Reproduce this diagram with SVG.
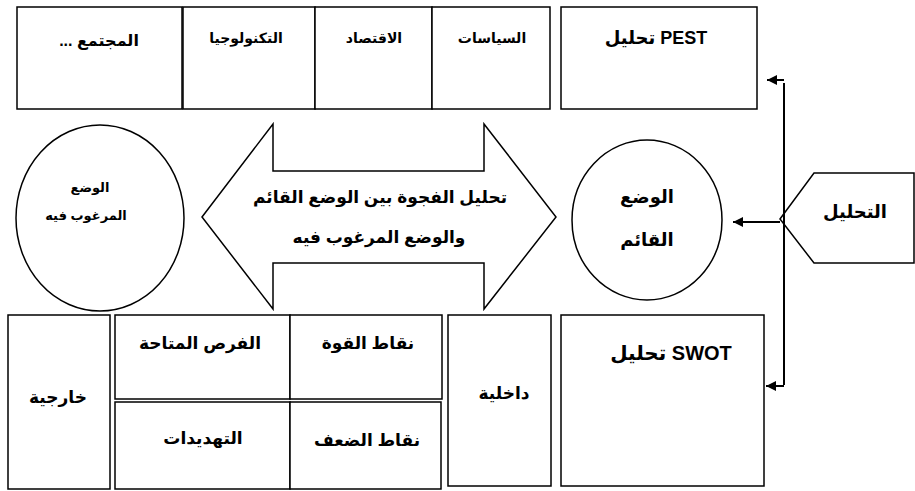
<svg xmlns="http://www.w3.org/2000/svg" width="915" height="491" viewBox="0 0 915 491">
<style>
.b{fill:#fff;stroke:#000;stroke-width:1.5}
.t{font-family:"Liberation Sans","DejaVu Sans",sans-serif;font-weight:bold;fill:#000;text-anchor:middle;direction:rtl}
.s{font-size:14px}
.r{font-size:13px}
.m{font-size:17px}
.l{font-size:18px}
.c{fill:none;stroke:#000;stroke-width:2}
</style>
<defs>
<marker id="ah" viewBox="0 0 10 10" refX="10" refY="5" markerWidth="5" markerHeight="5" orient="auto" markerUnits="strokeWidth">
<path d="M0,0 L10,5 L0,10 z" fill="#000"/>
</marker>
</defs>
<rect width="915" height="491" fill="#fff"/>
<g id="society"><rect class="b" x="17" y="7" width="165" height="102"/><text class="t" style="font-size:16px" x="99" y="46" direction="rtl">المجتمع ...</text></g>
<g id="technology"><rect class="b" x="183" y="7" width="132" height="102"/><text class="t s" x="246" y="43" direction="rtl">التكنولوجيا</text></g>
<g id="economy"><rect class="b" x="315" y="7" width="117" height="102"/><text class="t s" x="374" y="43" direction="rtl">الاقتصاد</text></g>
<g id="politics"><rect class="b" x="432" y="7" width="118" height="102"/><text class="t s" x="492" y="43" direction="rtl">السياسات</text></g>
<g id="pest"><rect class="b" x="561" y="7" width="196" height="102"/><text class="t l" x="656" y="44" direction="rtl">PEST تحليل</text></g>
<g id="desired"><ellipse class="b" cx="100" cy="218" rx="84" ry="93"/><text class="t r" x="90" y="192" direction="rtl">الوضع</text><text class="t r" x="86" y="220" direction="rtl">المرغوب فيه</text></g>
<g id="gap"><polygon class="b" points="202,217 273,124 273,171 484,171 484,124 556,217 484,309 484,263 273,263 273,309"/><text class="t m" x="380" y="203" direction="rtl">تحليل الفجوة بين الوضع القائم</text><text class="t m" x="379" y="243" direction="rtl">والوضع المرغوب فيه</text></g>
<g id="current"><ellipse class="b" cx="647" cy="220" rx="75" ry="80"/><text class="t l" x="647" y="203" direction="rtl">الوضع</text><text class="t l" x="647" y="246" direction="rtl">القائم</text></g>
<g id="analysis"><polygon class="b" points="780,219 814,173 914,173 914,263 814,263"/><text class="t l" x="855" y="218" direction="rtl">التحليل</text></g>
<g id="external"><rect class="b" x="8" y="315" width="102" height="174"/><text class="t m" x="58" y="403" direction="rtl">خارجية</text></g>
<g id="opportunities"><rect class="b" x="115" y="315" width="175" height="84"/><text class="t m" x="200" y="349" direction="rtl">الفرص المتاحة</text></g>
<g id="strengths"><rect class="b" x="290" y="315" width="152" height="84"/><text class="t m" x="368" y="349" direction="rtl">نقاط القوة</text></g>
<g id="threats"><rect class="b" x="115" y="402" width="175" height="87"/><text class="t m" x="203" y="444" direction="rtl">التهديدات</text></g>
<g id="weaknesses"><rect class="b" x="290" y="402" width="151" height="87"/><text class="t m" x="367" y="446" direction="rtl">نقاط الضعف</text></g>
<g id="internal"><rect class="b" x="448" y="315" width="103" height="171"/><text class="t m" x="504" y="399" direction="rtl">داخلية</text></g>
<g id="swot"><rect class="b" x="561" y="315" width="203" height="171"/><text class="t" style="font-size:20px" x="671" y="360" direction="rtl">SWOT تحليل</text></g>
<g id="connectors">
<path class="c" d="M784,83 L784,385"/>
<path class="c" d="M784,80 L767,80" marker-end="url(#ah)"/>
<path class="c" d="M784,386 L766,386" marker-end="url(#ah)"/>
<path class="c" d="M780,222 L733,222" marker-end="url(#ah)"/>
</g>
</svg>
